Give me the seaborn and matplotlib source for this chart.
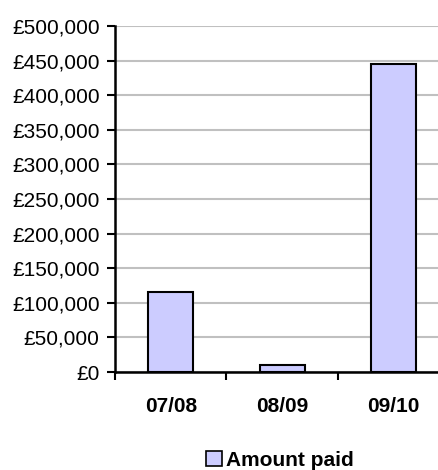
import pandas as pd
import matplotlib.pyplot as plt
import seaborn as sns
from matplotlib.ticker import FuncFormatter, FixedLocator
from matplotlib.patches import Patch

# Values
years = ["07/08", "08/09", "09/10"]
amount_paid = [116000, 10000, 445000]

df = pd.DataFrame({"year": years, "amount": amount_paid})

sns.set_style("white")
plt.rcParams['font.family'] = ['Liberation Sans', 'DejaVu Sans']
plt.rcParams['text.color'] = 'black'
plt.rcParams['xtick.labelcolor'] = 'black'
plt.rcParams['ytick.labelcolor'] = 'black'
fs = 15

fig = plt.figure(figsize=(4.39, 4.70), dpi=100)
ax = fig.add_axes([115 / 439, 98 / 470, 334.5 / 439, 346 / 470])

sns.barplot(data=df, x="year", y="amount", color="#ccccff", width=0.4,
            edgecolor="black", linewidth=1.5, saturation=1, ax=ax, zorder=3)
for p in ax.patches:
    p.set_facecolor("#ccccff")

ax.set_xlim(-0.5, 2.5)
ax.set_ylim(0, 500000)
ax.yaxis.set_major_locator(FixedLocator(range(0, 500001, 50000)))
ax.yaxis.set_major_formatter(FuncFormatter(lambda v, _: f"£{v:,.0f}"))
ax.grid(axis="y", color="#c0c0c0", linewidth=1.5, zorder=0)
ax.set_axisbelow(True)

# category ticks sit at the boundaries, labels at the centres
ax.set_xticks([-0.5, 0.5, 1.5, 2.5])
ax.set_xticklabels([])
ax.set_xticks(range(len(years)), minor=True)
ax.set_xticklabels(years, minor=True, fontweight="bold", fontsize=fs)
ax.tick_params(axis="x", which="minor", length=0, pad=18, labelcolor="black")
ax.tick_params(axis="x", which="major", direction="out", length=6, width=1.5, color="black", bottom=True)
ax.tick_params(axis="y", direction="out", length=6, width=1.5, color="black", left=True,
               labelsize=fs, pad=5, labelcolor="black")

for side in ["top", "right"]:
    ax.spines[side].set_visible(False)
for side in ["left", "bottom"]:
    ax.spines[side].set_color("black")
    ax.spines[side].set_linewidth(1.8)

ax.set_xlabel("")
ax.set_ylabel("")

handle = Patch(facecolor="#ccccff", edgecolor="black", linewidth=1.2, label="Amount paid")
fig.legend(handles=[handle], loc="center", bbox_to_anchor=(280 / 439, 1 - 460 / 470),
           frameon=False, prop={"weight": "bold", "size": fs},
           handlelength=0.75, handleheight=0.75, handletextpad=0.2, borderpad=0)

fig.savefig("out.png", dpi=100)
